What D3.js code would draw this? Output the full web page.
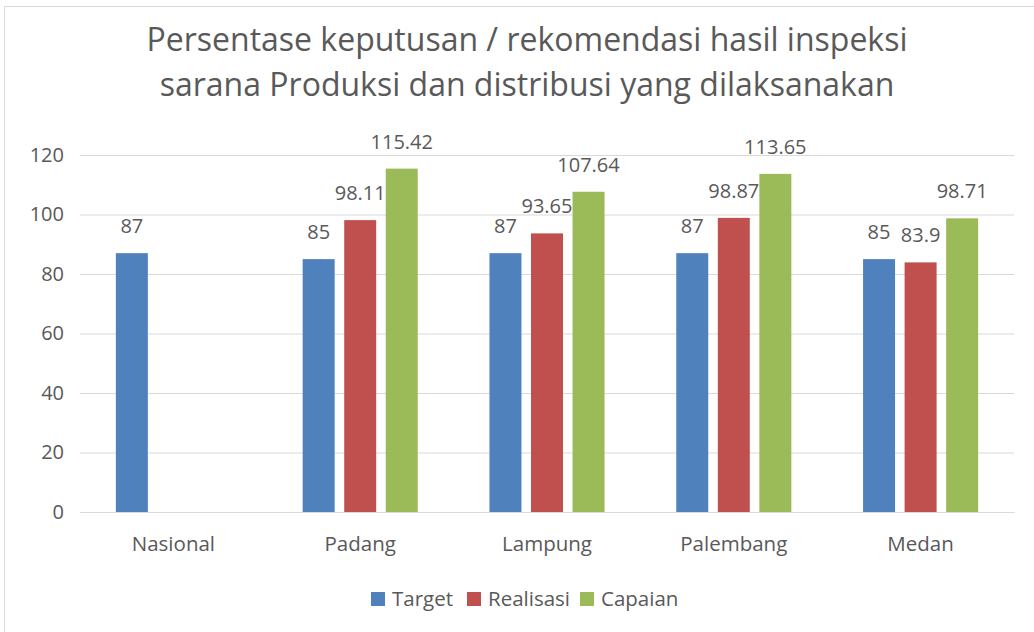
<!DOCTYPE html>
<html>
<head>
<meta charset="utf-8">
<script src="https://cdn.jsdelivr.net/npm/d3@7"></script>
<style>
  body { margin: 0; background: #fff; }
  text { font-family: "Open Sans", "Noto Sans", sans-serif; fill: #595959; }
</style>
</head>
<body>
<div id="chart"></div>
<script>
// data
const categories = ['Nasional', 'Padang', 'Lampung', 'Palembang', 'Medan'];
const seriesNames = ['Target', 'Realisasi', 'Capaian'];
const target    = [87, 85, 87, 87, 85];
const realisasi = [null, 98.11, 93.65, 98.87, 83.9];
const capaian   = [null, 115.42, 107.64, 113.65, 98.71];
const yTicks = [0, 20, 40, 60, 80, 100, 120];
const titleLines = ['Persentase keputusan / rekomendasi hasil inspeksi',
                    'sarana Produksi dan distribusi yang dilaksanakan'];

const colors = {Target: '#4F81BD', Realisasi: '#C0504D', Capaian: '#9BBB59'};

const W = 1034, H = 632;
const M = {top: 155, bottom: 120, left: 80, right: 20};

const svg = d3.select('#chart').append('svg')
    .attr('width', W).attr('height', H);

// chart frame
svg.append('rect')
    .attr('x', 4.5).attr('y', 6.5)
    .attr('width', W + 10).attr('height', H + 10)
    .attr('fill', 'none').attr('stroke', '#D9D9D9');

// title
svg.append('g').selectAll('text')
    .data(titleLines)
    .join('text')
    .attr('x', 527)
    .attr('y', (d, i) => 51 + i * 45)
    .attr('text-anchor', 'middle')
    .attr('font-size', 32)
    .text(d => d);

const rows = categories.map((c, i) => ({
    cat: c,
    vals: [
        {key: 'Target', v: target[i]},
        {key: 'Realisasi', v: realisasi[i]},
        {key: 'Capaian', v: capaian[i]}
    ].filter(d => d.v != null)
}));

const x0 = d3.scaleBand()
    .domain(categories)
    .range([M.left, W - M.right])
    .paddingInner(0.384)
    .paddingOuter(0.192);

const x1 = d3.scaleBand()
    .domain(seriesNames)
    .range([0, x0.bandwidth()])
    .paddingInner(0.23);

const y = d3.scaleLinear()
    .domain([0, 120])
    .range([H - M.bottom, M.top]);

// gridlines + y labels
const yAxis = g => g
    .call(d3.axisLeft(y)
        .tickValues(yTicks)
        .tickSize(-(W - M.left - M.right))
        .tickPadding(16))
    .call(g => g.select('.domain').remove())
    .call(g => g.selectAll('.tick line').attr('stroke', '#D9D9D9'))
    .call(g => g.selectAll('.tick text')
        .attr('font-size', 20)
        .attr('fill', '#595959')
        .style('font-family', '"Open Sans", sans-serif'));

svg.append('g')
    .attr('transform', `translate(${M.left},0)`)
    .call(yAxis);

// x axis labels
const xAxis = g => g
    .call(d3.axisBottom(x0).tickSize(0).tickPadding(24))
    .call(g => g.select('.domain').attr('stroke', '#D9D9D9'))
    .call(g => g.selectAll('.tick text')
        .attr('font-size', 20.5)
        .attr('fill', '#595959')
        .style('font-family', '"Open Sans", sans-serif'));

svg.append('g')
    .attr('transform', `translate(0,${H - M.bottom})`)
    .call(xAxis);

// bars
const groups = svg.append('g').selectAll('g')
    .data(rows)
    .join('g')
    .attr('transform', d => `translate(${x0(d.cat)},0)`);

groups.selectAll('rect')
    .data(d => d.vals)
    .join('rect')
    .attr('x', d => x1(d.key))
    .attr('y', d => y(d.v))
    .attr('width', x1.bandwidth())
    .attr('height', d => y(0) - y(d.v))
    .attr('fill', d => colors[d.key]);

groups.selectAll('text')
    .data(d => d.vals)
    .join('text')
    .attr('x', d => x1(d.key) + x1.bandwidth() / 2)
    .attr('y', d => y(d.v) - 20)
    .attr('text-anchor', 'middle')
    .attr('font-size', 20)
    .text(d => d.v);

// legend
const legend = svg.append('g')
    .attr('transform', `translate(371,592)`);
const legendX = [0, 96, 209];
legend.selectAll('rect')
    .data(seriesNames)
    .join('rect')
    .attr('x', (d, i) => legendX[i])
    .attr('y', 0)
    .attr('width', 14).attr('height', 14)
    .attr('fill', d => colors[d]);
legend.selectAll('text')
    .data(seriesNames)
    .join('text')
    .attr('x', (d, i) => legendX[i] + 21)
    .attr('y', 14)
    .attr('font-size', 20.5)
    .text(d => d);
</script>
</body>
</html>
